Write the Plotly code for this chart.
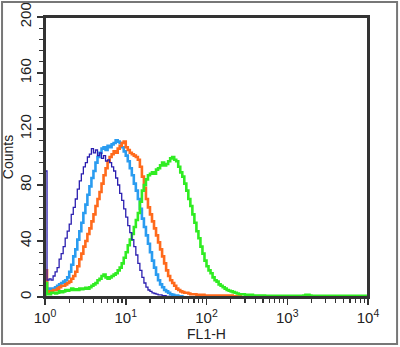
import numpy as np
import plotly.graph_objects as go

# log10 bin positions (step 0.025 decades) for FL1-H channels
bin_step = 0.025

navy_counts = [90, 12, 13, 12, 15, 18, 21, 27, 31, 36, 42, 47, 52, 59, 64, 70, 77, 83, 88, 93,
               96, 100, 102, 106, 103, 105, 101, 103, 99, 101, 97, 98, 96, 93, 90, 85, 80, 74, 69, 63,
               57, 51, 46, 41, 36, 30, 24, 19, 14, 10, 7, 5, 4, 3, 2.5, 2, 1.5, 1.5, 1, 1,
               0.5, 0.5, 0, 0]

lightblue_counts = [12, 6, 5, 6, 6, 7, 8, 9, 10, 11, 12, 14, 18, 23, 29, 34, 41, 47, 53, 60,
                    66, 73, 79, 85, 90, 96, 100, 103, 106, 107, 105, 108, 107, 109, 110, 112, 111, 110, 107, 104,
                    101, 97, 92, 87, 81, 76, 70, 63, 56, 50, 44, 38, 32, 26, 21, 16, 12, 9, 7, 5,
                    4, 3, 2, 1.5, 1, 1, 0.5, 0.5, 0, 0]

orange_counts = [19, 4, 3, 4, 5, 5, 6, 7, 8, 8, 9, 10, 11, 13, 15, 18, 22, 27, 31, 36,
                 40, 45, 49, 54, 59, 65, 70, 75, 81, 87, 92, 97, 100, 102, 104, 103, 106, 108, 110, 111,
                 107, 105, 103, 102, 101, 100, 98, 93, 86, 78, 70, 64, 59, 54, 49, 44, 39, 34, 29, 24,
                 19, 15, 12, 10, 8, 6, 5, 4, 3.5, 3, 3, 2.5, 2, 2, 2, 1.5, 1.5, 1.5, 1.5, 1,
                 1, 1, 1, 1, 1, 1, 1, 1, 1, 1, 1, 1, 1, 0.5, 0.5, 0.5, 0.5, 0, 0]

green_counts = [10, 2, 2, 3, 3, 2.5, 3, 4, 3.5, 4, 5, 4.5, 5, 6, 5, 5.5, 5, 6, 5.5, 6,
                6.5, 6, 7, 8, 9, 10, 12, 13, 15, 16, 14, 13, 14, 15, 16, 17, 19, 21, 24, 28,
                32, 37, 41, 45, 50, 55, 60, 68, 76, 80, 84, 87, 88, 89, 88, 91, 92, 94, 96, 94,
                95, 97, 99, 100, 98, 97, 93, 89, 86, 81, 76, 70, 65, 59, 53, 47, 42, 36, 31, 26,
                22, 19, 17, 14, 12, 11, 9, 8, 7, 6, 5, 4.5, 4, 3.5, 3, 2.5, 2, 2, 2, 1.5,
                1.5, 1.5, 1.5, 1, 1, 1, 1, 1, 1, 0.8, 0.8, 0.8, 0.8, 0.8, 0.8, 0.8, 0.8, 0.8, 0.8, 0.8,
                0.8, 0.8, 0.8, 0.8, 0.8, 0.8, 0.8, 0.8, 1, 1.5, 1.5, 1, 0.8, 0.8, 0.8, 0.8, 0.8, 0.8, 0.8, 0.8,
                0.8, 0.8, 0.8, 0.8, 0.8, 0.8, 0.8, 0.8, 0.8, 0.8, 0.8, 0.8, 0.8, 0.8, 0.8, 0.8, 0.8, 0.8, 0.8, 0.8, 0.8]

series = [
    ("lightblue", lightblue_counts, "#2a9cf0", 2.6),
    ("orange", orange_counts, "#ff6a1c", 2.6),
    ("green", green_counts, "#30ec22", 2.6),
    ("navy", navy_counts, "#2b1fb0", 1.3),
]

x_tickvals = [1, 10, 100, 1000, 10000]
x_ticktext = ["10<sup>0</sup>", "10<sup>1</sup>", "10<sup>2</sup>", "10<sup>3</sup>", "10<sup>4</sup>"]
y_tickvals = [0, 40, 80, 120, 160, 200]

fig = go.Figure()
for name, counts, color, width in series:
    xs = [10 ** (i * bin_step) for i in range(len(counts))]
    fig.add_trace(go.Scatter(
        x=[xs[0]] + xs, y=[0] + list(counts), mode="lines",
        line=dict(color=color, width=width, shape="hv"), name=name, showlegend=False,
        cliponaxis=True,
    ))

minor_x = [m * 10 ** d for d in range(4) for m in range(2, 10)]
minor_y = [v for v in range(0, 201, 8) if v % 40 != 0]

axis_font = dict(family="Liberation Sans, Arial, sans-serif", size=15, color="#222")
fig.update_layout(
    width=400, height=347,
    margin=dict(l=45, r=32, t=17, b=50, autoexpand=False),
    paper_bgcolor="white", plot_bgcolor="white",
    font=axis_font,
    xaxis=dict(
        type="log", range=[0, 4], tickmode="array", tickvals=x_tickvals, ticktext=x_ticktext,
        ticks="outside", ticklen=6, tickwidth=1.5, tickcolor="#333", automargin=False,
        minor=dict(tickmode="array", tickvals=minor_x, ticks="outside", ticklen=4, tickwidth=1.2, tickcolor="#333", showgrid=False),
        showline=True, linecolor="#333", linewidth=2, mirror=True, showgrid=False, zeroline=False,
        title=dict(text="FL1-H", font=dict(size=14), standoff=2),
        tickfont=axis_font,
    ),
    yaxis=dict(
        range=[0, 200], tickmode="array", tickvals=y_tickvals, tickangle=-90,
        ticks="outside", ticklen=6, tickwidth=1.5, tickcolor="#333", automargin=False,
        minor=dict(tickmode="array", tickvals=minor_y, ticks="outside", ticklen=4, tickwidth=1.2, tickcolor="#333", showgrid=False),
        showline=True, linecolor="#333", linewidth=2, mirror=True, showgrid=False, zeroline=False,
        title=dict(text="Counts", font=dict(size=14), standoff=2),
        tickfont=axis_font,
    ),
    shapes=[
        dict(type="rect", xref="paper", yref="paper",
             x0=-0.133, x1=1.09, y0=-0.168, y1=1.054,
             line=dict(color="#777", width=2), fillcolor="rgba(0,0,0,0)", layer="above"),
        dict(type="rect", xref="paper", yref="paper",
             x0=0, x1=1, y0=0, y1=1,
             line=dict(color="#333", width=2), fillcolor="rgba(0,0,0,0)", layer="above"),
    ],
)

fig.write_html("out.html", config={"displayModeBar": False, "staticPlot": True},
               post_script="document.body.style.margin='0';document.body.style.overflow='hidden';")
